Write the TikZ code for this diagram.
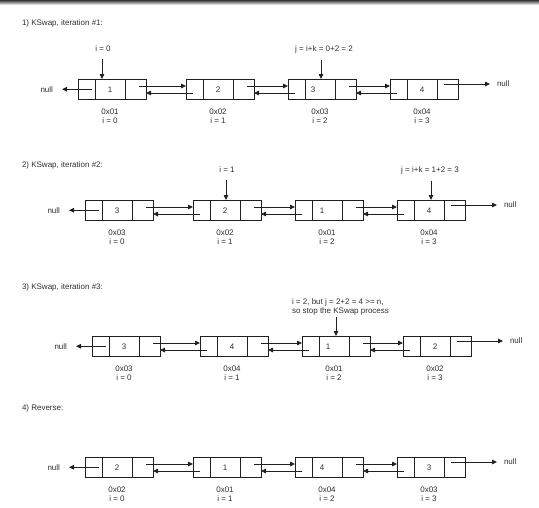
\documentclass[tikz,border=0pt]{standalone}
\usepackage{fontspec}
\setmainfont{Liberation Sans}
\usetikzlibrary{arrows.meta}
\definecolor{linec}{HTML}{202020}
\definecolor{txtc}{HTML}{303030}

\tikzset{
  cell/.style={draw=linec, line width=0.8pt, inner sep=0pt, outer sep=0pt,
    minimum height=20.5pt, anchor=north west, font=\fontsize{8}{9}\selectfont, text=txtc},
  cellL/.style={cell, minimum width=17pt},
  cellM/.style={cell, minimum width=30pt},
  cellR/.style={cell, minimum width=21pt},
  txt/.style={inner sep=0pt, outer sep=0pt, font=\fontsize{8}{9}\selectfont, text=txtc},
  addr/.style={txt, anchor=north, align=center},
  title/.style={txt, anchor=west},
  link/.style={draw=linec, line width=0.8pt, -{Triangle[length=5pt,width=4.5pt]}},
}

% name, x, ytop, value, value shift, address, index
\newcommand\listelem[7]{%
  \node[cellL] (#1-l) at (#2,#3) {};
  \node[cellM] (#1-m) at (#1-l.north east) {\kern#5#4\kern-#5};
  \node[cellR] (#1-r) at (#1-m.north east) {};
  \node[addr] (#1-a) at ([yshift=-9.6pt]#1-m.south) {#6\\#7};
}
\newcommand\dlink[2]{%
  \draw[link] ([xshift=-7pt,yshift=-7pt]#1-r.north east) -- ([yshift=-7pt]#2-l.north west);
  \draw[link] ([xshift=7pt,yshift=-14pt]#2-l.north west) -- ([yshift=-14pt]#1-r.north east);
}
\newcommand\nullleft[2]{%
  \node[txt, anchor=east] (#1) at ([xshift=-25pt]#2-l.west) {null};
  \draw[link, shorten >=9pt] ([xshift=14pt]#2-l.west) -- (#1.east);
}
\newcommand\nullright[2]{%
  \node[txt, anchor=west] (#1) at ([xshift=39pt,yshift=-5pt]#2-r.north east) {null};
  \draw[link, shorten >=7pt] ([xshift=-14pt,yshift=-5pt]#2-r.north east) -- (#1.west);
}

\begin{document}
\begin{tikzpicture}[x=1pt, y=-1pt]
\useasboundingbox (0,0) rectangle (539,507);
\fill[white] (0,0) rectangle (539,507);
\shade[top color=black!80, bottom color=white] (0,0) rectangle (539,5);

% ---------- 1) ----------
\node[title] (t1) at (22,23) {1) KSwap, iteration \#1:};
\listelem{r1a}{78}{79}{1}{0pt}{0x01}{i = 0}
\listelem{r1b}{186}{79}{2}{0pt}{0x02}{i = 1}
\listelem{r1c}{288}{79}{3}{-7pt}{0x03}{i = 2}
\listelem{r1d}{390}{79}{4}{0pt}{0x04}{i = 3}
\dlink{r1a}{r1b}
\dlink{r1b}{r1c}
\dlink{r1c}{r1d}
\nullleft{n1l}{r1a}
\nullright{n1r}{r1d}
\node[txt] (p1i) at (103,49) {i = 0};
\node[txt] (p1j) at (324,49) {j = i+k = 0+2 = 2};
\coordinate (q1i) at ([xshift=-8pt]r1a-m.north);
\coordinate (q1j) at ([xshift=1pt]r1c-m.north);
\draw[link, shorten <=7pt] (q1i |- p1i.south) -- (q1i);
\draw[link, shorten <=7pt] (q1j |- p1j.south) -- (q1j);

% ---------- 2) ----------
\node[title] (t2) at (22,165) {2) KSwap, iteration \#2:};
\listelem{r2a}{85}{200}{3}{0pt}{0x03}{i = 0}
\listelem{r2b}{193}{200}{2}{0pt}{0x02}{i = 1}
\listelem{r2c}{295}{200}{1}{-5pt}{0x01}{i = 2}
\listelem{r2d}{397}{200}{4}{0pt}{0x04}{i = 3}
\dlink{r2a}{r2b}
\dlink{r2b}{r2c}
\dlink{r2c}{r2d}
\nullleft{n2l}{r2a}
\nullright{n2r}{r2d}
\node[txt] (p2i) at (227,170) {i = 1};
\node[txt] (p2j) at (430,170) {j = i+k = 1+2 = 3};
\coordinate (q2i) at ([xshift=1pt]r2b-m.north);
\coordinate (q2j) at ([xshift=2pt]r2d-m.north);
\draw[link, shorten <=7pt] (q2i |- p2i.south) -- (q2i);
\draw[link, shorten <=7pt] (q2j |- p2j.south) -- (q2j);

% ---------- 3) ----------
\node[title] (t3) at (22,287) {3) KSwap, iteration \#3:};
\listelem{r3a}{92}{336}{3}{0pt}{0x03}{i = 0}
\listelem{r3b}{200}{336}{4}{0pt}{0x04}{i = 1}
\listelem{r3c}{302}{336}{1}{-6pt}{0x01}{i = 2}
\listelem{r3d}{403}{336}{2}{0pt}{0x02}{i = 3}
\dlink{r3a}{r3b}
\dlink{r3b}{r3c}
\dlink{r3c}{r3d}
\nullleft{n3l}{r3a}
\nullright{n3r}{r3d}
\node[txt, anchor=north west, align=left] (p3) at (292,298.5)
  {i = 2, but j = 2+2 = 4 >= n,\\so stop the KSwap process};
\coordinate (q3) at ([xshift=2pt]r3c-m.north);
\draw[link, shorten <=2pt] (q3 |- p3.south) -- (q3);

% ---------- 4) ----------
\node[title] (t4) at (22,408) {4) Reverse:};
\listelem{r4a}{85}{457}{2}{0pt}{0x02}{i = 0}
\listelem{r4b}{193}{457}{1}{0pt}{0x01}{i = 1}
\listelem{r4c}{295}{457}{4}{-5pt}{0x04}{i = 2}
\listelem{r4d}{397}{457}{3}{0pt}{0x03}{i = 3}
\dlink{r4a}{r4b}
\dlink{r4b}{r4c}
\dlink{r4c}{r4d}
\nullleft{n4l}{r4a}
\nullright{n4r}{r4d}
\end{tikzpicture}
\end{document}
